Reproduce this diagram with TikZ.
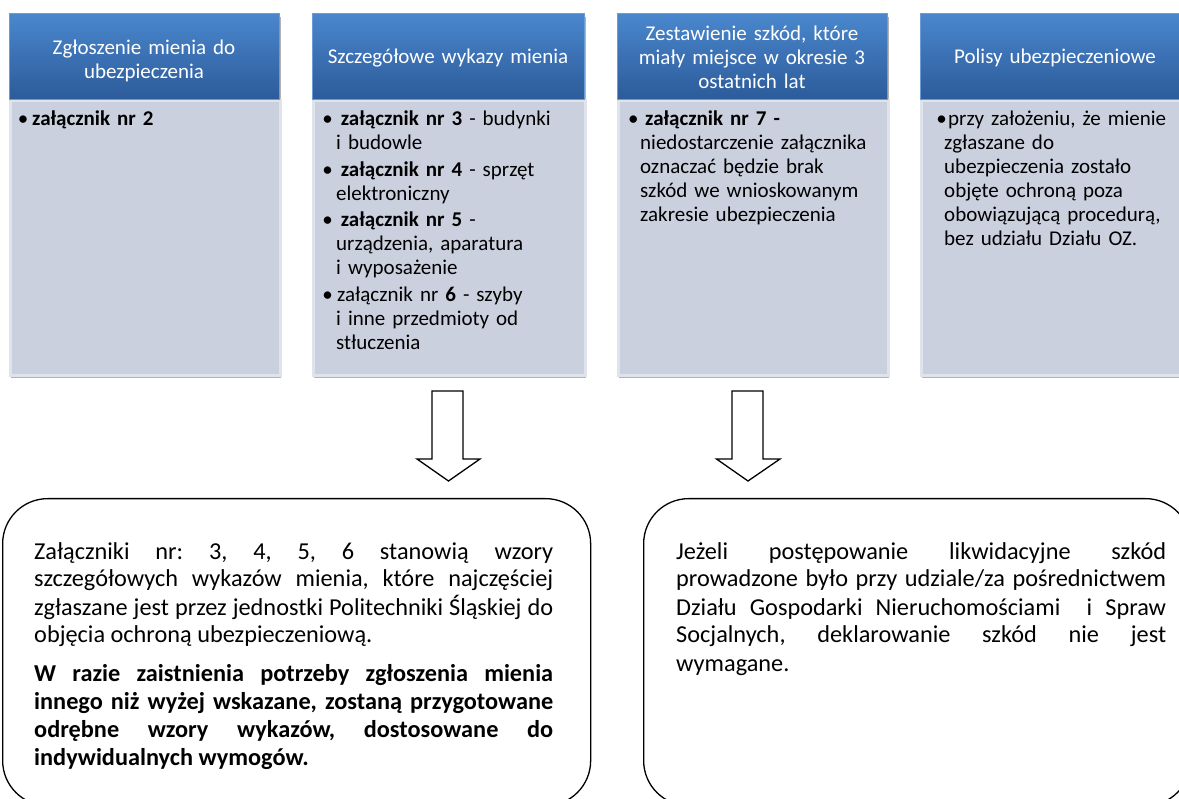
\documentclass[tikz,border=0pt]{standalone}
\usepackage{fontspec}
\setmainfont{Carlito}
\usetikzlibrary{shadows}
\definecolor{hdtop}{HTML}{4A87CD}
\definecolor{hdbot}{HTML}{2C5B9A}
\definecolor{hdedge}{HTML}{6D9CD5}
\definecolor{bodyfill}{HTML}{CBD0DE}
\definecolor{bodyedge}{HTML}{DFE3EB}
\tikzset{
  colshadow/.style={draw=none, fill=bodyfill, inner sep=0, anchor=north west,
    drop shadow={shadow xshift=1.5pt, shadow yshift=-3.5pt, opacity=0.3, fill=black}},
  header/.style={inner sep=0, anchor=north west, top color=hdtop, bottom color=hdbot, draw=hdedge, line width=1pt},
  bodybox/.style={inner sep=0, anchor=north west, fill=bodyfill, draw=bodyedge, line width=3pt},
  hdtext/.style={anchor=base, text=white, font=\fontsize{21}{24}\selectfont, inner sep=0, align=center, text width=262pt},
  bodytext/.style={anchor=base west, font=\fontsize{21}{24}\selectfont, inner sep=0, align=left, text width=240pt},
  bul/.style={anchor=base, font=\fontsize{21}{24}\selectfont, inner sep=0},
  bigbox/.style={draw=black, line width=1.3pt, rounded corners=45pt, fill=white, inner sep=0, anchor=north west},
  bigtext/.style={anchor=base west, font=\fontsize{24.3}{28}\selectfont, inner sep=0, align=justify},
  blockarrow/.style={draw=black, line width=1.3pt, fill=white, line join=miter},
}
\begin{document}
\frenchspacing
\begin{tikzpicture}[x=1pt,y=-1pt]
\useasboundingbox (0,0) rectangle (1179,799);
\clip (0,0) rectangle (1179,799);
\fill[white] (0,0) rectangle (1179,799);

% columns with shadows
\node[colshadow, minimum width=270, minimum height=361] (s1) at (9,13) {};
\node[colshadow, minimum width=272, minimum height=361] (s2) at (312,13) {};
\node[colshadow, minimum width=270, minimum height=361] (s3) at (617,13) {};
\node[colshadow, minimum width=270, minimum height=361] (s4) at (920,13) {};

% bodies
\node[bodybox, minimum width=270, minimum height=275] (b1) at (9,99) {};
\node[bodybox, minimum width=272, minimum height=275] (b2) at (312,99) {};
\node[bodybox, minimum width=270, minimum height=275] (b3) at (617,99) {};
\node[bodybox, minimum width=270, minimum height=275] (b4) at (920,99) {};

% headers
\node[header, minimum width=270, minimum height=86] (h1) at (9,13) {};
\node[header, minimum width=272, minimum height=86] (h2) at (312,13) {};
\node[header, minimum width=270, minimum height=86] (h3) at (617,13) {};
\node[header, minimum width=270, minimum height=86] (h4) at (920,13) {};

% header texts
\node[hdtext] (t1) at (144,55) {Zgłoszenie mienia do\\ubezpieczenia};
\node[hdtext] (t2) at (448,64) {Szczegółowe wykazy mienia};
\node[hdtext] (t3) at (752,41) {Zestawienie szkód, które\\miały miejsce w okresie 3\\ostatnich lat};
\node[hdtext] (t4) at (1055,64) {Polisy ubezpieczeniowe};

% column 1
\node[bul] (u1) at (23,126) {\textbullet};
\node[bodytext] (x1) at (32,126) {\textbf{załącznik nr 2}};

% column 2
\node[bul] (u2a) at (327.5,126) {\textbullet};
\node[bodytext] (x2a) at (336,126) {\hspace*{4.7pt}\textbf{załącznik nr 3} - budynki\\i budowle};
\node[bul] (u2b) at (327.5,176.5) {\textbullet};
\node[bodytext] (x2b) at (336,176.5) {\hspace*{4.7pt}\textbf{załącznik nr 4} - sprzęt\\elektroniczny};
\node[bul] (u2c) at (327.5,227) {\textbullet};
\node[bodytext] (x2c) at (336,227) {\hspace*{4.7pt}\textbf{załącznik nr 5} -\\urządzenia, aparatura\\i wyposażenie};
\node[bul] (u2d) at (327.5,301.5) {\textbullet};
\node[bodytext] (x2d) at (336,301.5) {\hspace*{1pt}załącznik nr \textbf{6} - szyby\\i inne przedmioty od\\stłuczenia};

% column 3
\node[bul] (u3) at (633.3,126) {\textbullet};
\node[bodytext] (x3) at (640,126) {\hspace*{5pt}\textbf{załącznik nr 7 -}\\niedostarczenie załącznika\\oznaczać będzie brak\\szkód we wnioskowanym\\zakresie ubezpieczenia};

% column 4
\node[bul] (u4) at (941.7,126) {\textbullet};
\node[bodytext] (x4) at (944,126) {\hspace*{4pt}przy założeniu, że mienie\\zgłaszane do\\ubezpieczenia zostało\\objęte ochroną poza\\obowiązującą procedurą,\\bez udziału Działu OZ.};

% block arrows
\coordinate (a1) at (448.5,391);
\coordinate (a2) at (748,391);
\draw[blockarrow] ([shift={(-16.5,0)}]a1) -- ([shift={(14.5,0)}]a1) -- ([shift={(14.5,68)}]a1) -- ([shift={(31.5,68)}]a1) -- ([shift={(0,90)}]a1) -- ([shift={(-31.5,68)}]a1) -- ([shift={(-16.5,68)}]a1) -- cycle;
\draw[blockarrow] ([shift={(-16,0)}]a2) -- ([shift={(15,0)}]a2) -- ([shift={(15,68)}]a2) -- ([shift={(32,68)}]a2) -- ([shift={(0,90)}]a2) -- ([shift={(-31.5,68)}]a2) -- ([shift={(-16,68)}]a2) -- cycle;

% bottom boxes
\node[bigbox, minimum width=588, minimum height=307] (bl) at (2,498) {};
\node[bigbox, minimum width=547, minimum height=307] (br) at (643,498) {};

\node[bigtext, text width=519pt] (blt) at (34,559) {Załączniki nr: 3, 4, 5, 6 stanowią wzory\linebreak
szczegółowych wykazów mienia, które najczęściej\linebreak
zgłaszane jest przez jednostki Politechniki Śląskiej do\linebreak
objęcia ochroną ubezpieczeniową.\par\vspace{11pt}
\textbf{W razie zaistnienia potrzeby zgłoszenia mienia\linebreak
innego niż wyżej wskazane, zostaną przygotowane\linebreak
odrębne wzory wykazów, dostosowane do\linebreak
indywidualnych wymogów.}};

\node[bigtext, text width=490pt] (brt) at (676,559) {Jeżeli postępowanie likwidacyjne szkód\linebreak
prowadzone było przy udziale/za pośrednictwem\linebreak
Działu Gospodarki Nieruchomościami~ i Spraw\linebreak
Socjalnych, deklarowanie szkód nie jest\linebreak
wymagane.};
\end{tikzpicture}
\end{document}
